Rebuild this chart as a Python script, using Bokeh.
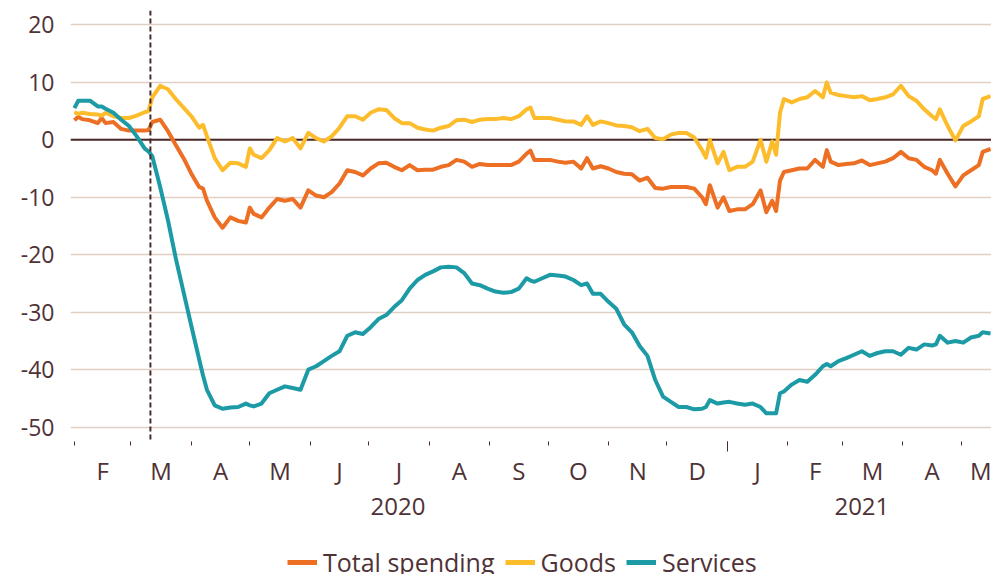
import pandas as pd
from bokeh.plotting import figure
from bokeh.layouts import column
from bokeh.models import (FixedTicker, Span, LinearAxis, Legend, LegendItem,
                          Range1d, ColumnDataSource)
from bokeh.embed import file_html
from bokeh.resources import INLINE

ORIGIN = pd.Timestamp("2020-02-01")  # day 0

# days since 1 Feb 2020
day = [0, 2, 4, 8, 12, 14, 16, 20, 24, 28, 32, 36, 38, 40, 44, 48, 52, 56, 60, 64,
       66, 68, 72, 76, 80, 84, 88, 90, 92, 96, 100, 104, 108, 112, 116, 120, 124, 128,
       132, 136, 140, 144, 148, 152, 156, 160, 164, 168, 172, 176, 180, 184, 188, 192,
       196, 200, 204, 208, 212, 216, 220, 224, 228, 232, 234, 236, 240, 244, 248, 252,
       256, 260, 263, 266, 270, 274, 278, 282, 286, 290, 294, 298, 302, 306, 310, 314,
       318, 322, 324, 326, 330, 333, 336, 340, 344, 348, 352, 355, 358, 360, 362, 364,
       368, 372, 376, 380, 384, 386, 388, 392, 396, 400, 404, 408, 412, 416, 420, 424,
       428, 432, 436, 440, 442, 444, 448, 452, 456, 460, 464, 466, 470]

services = [5.5, 6.8, 6.8, 6.8, 5.8, 5.8, 5.4, 4.7, 3.5, 2.4, 0.6, -1.5, -2.0, -2.9, -8.2,
            -14.0, -20.6, -26.5, -32.4, -38.2, -41.0, -43.5, -46.2, -46.8, -46.6, -46.5,
            -45.9, -46.2, -46.4, -45.9, -44.1, -43.5, -42.9, -43.2, -43.5, -40.0, -39.4,
            -38.5, -37.6, -36.8, -34.1, -33.5, -33.8, -32.6, -31.2, -30.5, -29.1, -27.9,
            -25.9, -24.4, -23.5, -22.9, -22.2, -22.1, -22.2, -23.2, -25.0, -25.3, -25.9,
            -26.4, -26.6, -26.5, -25.9, -24.1, -24.5, -24.7, -24.1, -23.5, -23.6, -23.8,
            -24.4, -25.3, -25.0, -26.8, -26.8, -28.2, -29.4, -32.1, -33.5, -35.9, -37.6,
            -41.8, -44.7, -45.6, -46.5, -46.5, -46.9, -46.8, -46.5, -45.3, -45.9, -45.7,
            -45.6, -45.9, -46.1, -45.9, -46.5, -47.6, -47.6, -47.6, -44.1, -43.8, -42.6,
            -41.8, -42.1, -40.9, -39.4, -39.0, -39.4, -38.5, -38.0, -37.4, -36.8, -37.6,
            -37.1, -36.8, -36.8, -37.4, -36.2, -36.5, -35.6, -35.8, -35.6, -34.1, -35.3,
            -35.0, -35.3, -34.4, -34.1, -33.5, -33.7]

goods = [4.8, 4.5, 4.7, 4.5, 4.4, 4.2, 4.7, 4.1, 3.8, 3.8, 4.2, 4.8, 5.0, 7.4, 9.4, 8.8,
         7.1, 5.6, 4.1, 2.1, 2.6, 0.6, -3.2, -5.3, -4.0, -4.1, -4.7, -1.5, -2.6, -3.2,
         -1.8, 0.3, -0.3, 0.3, -1.5, 1.2, 0.3, -0.3, 0.6, 2.1, 4.1, 4.1, 3.5, 4.7, 5.3,
         5.2, 3.8, 2.9, 2.9, 2.1, 1.8, 1.6, 2.1, 2.4, 3.4, 3.5, 3.1, 3.5, 3.6, 3.6, 3.8,
         3.6, 4.1, 5.3, 5.6, 3.8, 3.8, 3.8, 3.5, 3.2, 3.2, 2.6, 4.1, 2.6, 3.2, 2.9, 2.5,
         2.4, 2.2, 1.5, 1.9, 0.3, 0.1, 0.9, 1.2, 1.2, 0.4, -1.8, -3.1, 0.0, -4.1, -2.1,
         -5.3, -4.7, -4.7, -3.8, 0.0, -3.8, -0.3, -2.6, 4.7, 7.1, 6.5, 7.1, 7.4, 8.5,
         7.4, 10.0, 8.2, 7.8, 7.6, 7.4, 7.6, 6.9, 7.1, 7.4, 7.9, 9.4, 7.6, 6.8, 5.3,
         4.1, 3.6, 5.3, 2.4, -0.1, 2.4, 3.2, 4.1, 7.1, 7.6]

total_spending = [3.4, 4.0, 3.6, 3.4, 2.9, 3.8, 2.9, 3.1, 1.9, 1.6, 1.6, 1.6, 1.7, 3.1,
                  3.5, 1.5, -0.9, -3.2, -5.9, -8.2, -8.5, -10.6, -13.5, -15.3, -13.5,
                  -14.1, -14.4, -11.8, -12.9, -13.5, -11.8, -10.3, -10.6, -10.3, -11.8,
                  -8.8, -9.7, -10.0, -9.1, -7.6, -5.3, -5.6, -6.2, -5.0, -4.1, -4.0,
                  -4.7, -5.3, -4.4, -5.3, -5.2, -5.2, -4.7, -4.4, -3.5, -3.8, -4.7, -4.2,
                  -4.4, -4.4, -4.4, -4.4, -3.8, -2.4, -1.9, -3.5, -3.5, -3.5, -3.8, -4.0,
                  -3.8, -5.0, -3.2, -5.0, -4.6, -5.0, -5.6, -5.9, -6.0, -7.1, -6.6, -8.4,
                  -8.5, -8.2, -8.2, -8.2, -8.5, -10.0, -11.2, -7.9, -11.8, -10.0, -12.4,
                  -12.1, -12.1, -11.2, -8.8, -12.6, -10.6, -12.4, -7.1, -5.6, -5.3, -5.0,
                  -5.0, -3.5, -4.7, -1.8, -3.8, -4.4, -4.2, -4.1, -3.6, -4.4, -4.1, -3.8,
                  -3.2, -2.1, -3.2, -3.5, -4.7, -5.3, -5.9, -3.5, -5.9, -8.1, -6.2, -5.3,
                  -4.4, -2.1, -1.6]

series_names = ["Total spending", "Goods", "Services"]

y_ticks = [-50, -40, -30, -20, -10, 0, 10, 20]
y_tick_labels = ["-50", "-40", "-30", "-20", "-10", "0", "10", "20"]

month_starts = ["2020-02-01", "2020-03-01", "2020-04-01", "2020-05-01", "2020-06-01",
                "2020-07-01", "2020-08-01", "2020-09-01", "2020-10-01", "2020-11-01",
                "2020-12-01", "2021-01-01", "2021-02-01", "2021-03-01", "2021-04-01",
                "2021-05-01", "2021-06-01"]
month_letters = ["F", "M", "A", "M", "J", "J", "A", "S", "O", "N", "D",
                 "J", "F", "M", "A", "M"]
year_break = "2021-01-01"
year_labels = ["2020", "2021"]
year_label_dates = ["2020-07-16", "2021-03-11"]
lockdown_date = "2020-03-11"
x_start, x_end = "2020-01-30", "2021-05-16 12:00"


def to_day(s):
    return (pd.Timestamp(s) - ORIGIN) / pd.Timedelta(days=1)


ORANGE = "#ec6f24"
YELLOW = "#fdbc2c"
TEAL = "#1c9aa5"
TEXT = "#4f3236"
DARK = "#4a2a2a"
GRID = "#e0cfc2"
FONT = "Open Sans"
LW = 4
COLORS = [ORANGE, YELLOW, TEAL]
COLS = ["total", "goods", "services"]

src = ColumnDataSource(dict(day=day, total=total_spending, goods=goods, services=services))

p = figure(frame_width=921, frame_height=431,
           x_range=Range1d(to_day(x_start), to_day(x_end)),
           y_range=Range1d(-52.5, 22.5),
           output_backend="svg", toolbar_location=None,
           min_border_left=70, min_border_right=0, min_border_top=10,
           min_border_bottom=100, x_axis_location=None)
p.outline_line_color = None
p.xgrid.visible = False

# y axis
yax = p.yaxis[0]
yax.ticker = FixedTicker(ticks=y_ticks, minor_ticks=[])
yax.major_label_overrides = {t: l for t, l in zip(y_ticks, y_tick_labels)}
yax.axis_line_color = None
yax.major_tick_line_color = None
yax.major_tick_out = 0
yax.major_tick_in = 0
yax.minor_tick_line_color = None
yax.major_label_standoff = 16
yax.major_label_text_font = FONT
yax.major_label_text_font_size = "23px"
yax.major_label_text_color = TEXT
p.ygrid.ticker = FixedTicker(ticks=y_ticks)
p.ygrid.grid_line_color = GRID
p.ygrid.grid_line_width = 1.5

# zero line
p.add_layout(Span(location=0, dimension="width", line_color=DARK, line_width=2,
                  level="underlay"))

# tick-mark axis (month boundaries, long tick at new year)
ms_days = [to_day(m) for m in month_starts]
axA = LinearAxis(ticker=FixedTicker(ticks=[to_day(year_break)], minor_ticks=ms_days),
                 major_tick_out=10, major_tick_in=0, minor_tick_out=4, minor_tick_in=0,
                 major_tick_line_color=DARK, minor_tick_line_color=DARK,
                 major_tick_line_width=1, minor_tick_line_width=1,
                 axis_line_color=None, major_label_standoff=0,
                 major_label_text_font_size="0px",
                 major_label_overrides={to_day(year_break): ""})
p.add_layout(axA, "below")

# month letters
mid_days = [(a + b) / 2 for a, b in zip(ms_days[:-1], ms_days[1:])]
mid_days[-1] = min(mid_days[-1], to_day(x_end) - 0.5)
axB = LinearAxis(ticker=FixedTicker(ticks=mid_days, minor_ticks=[]),
                 major_label_overrides={d: l for d, l in zip(mid_days, month_letters)},
                 major_tick_line_color=None, major_tick_out=0, major_tick_in=0,
                 minor_tick_line_color=None, axis_line_color=None,
                 major_label_standoff=2, major_label_text_font=FONT,
                 major_label_text_font_size="24px", major_label_text_color=TEXT)
p.add_layout(axB, "below")

# years
yl_days = [to_day(d) for d in year_label_dates]
axC = LinearAxis(ticker=FixedTicker(ticks=yl_days, minor_ticks=[]),
                 major_label_overrides={d: l for d, l in zip(yl_days, year_labels)},
                 major_tick_line_color=None, major_tick_out=0, major_tick_in=0,
                 minor_tick_line_color=None, axis_line_color=None,
                 major_label_standoff=8, major_label_text_font=FONT,
                 major_label_text_font_size="24px", major_label_text_color=TEXT)
p.add_layout(axC, "below")

for col, color in zip(COLS, COLORS):
    p.line("day", col, source=src, line_color=color, line_width=LW, line_join="round")

p.add_layout(Span(location=to_day(lockdown_date), dimension="height", line_color=DARK,
                  line_width=2, line_dash="5 3"))

# legend strip (its lines lie outside its own view; only the legend is visible)
p2 = figure(frame_width=991, frame_height=42,
            x_range=Range1d(to_day(x_start), to_day(x_end)),
            y_range=Range1d(1000, 1001),
            output_backend="svg", toolbar_location=None, min_border=0,
            x_axis_location=None, y_axis_location=None)
p2.outline_line_color = None
p2.grid.visible = False
items = []
for col, color, name in zip(COLS, COLORS, series_names):
    r = p2.line("day", col, source=src, line_color=color, line_width=5)
    items.append(LegendItem(label=name, renderers=[r]))
legend = Legend(items=items, orientation="horizontal", location="left",
                label_text_font=FONT, label_text_font_size="25px",
                label_text_color=TEXT, glyph_width=30, glyph_height=20,
                label_height=20, label_standoff=6, spacing=10, padding=0, margin=287,
                border_line_color=None, background_fill_alpha=0)
p2.add_layout(legend, "center")

open("out.html", "w").write(file_html(column(p, p2, spacing=0), INLINE))
